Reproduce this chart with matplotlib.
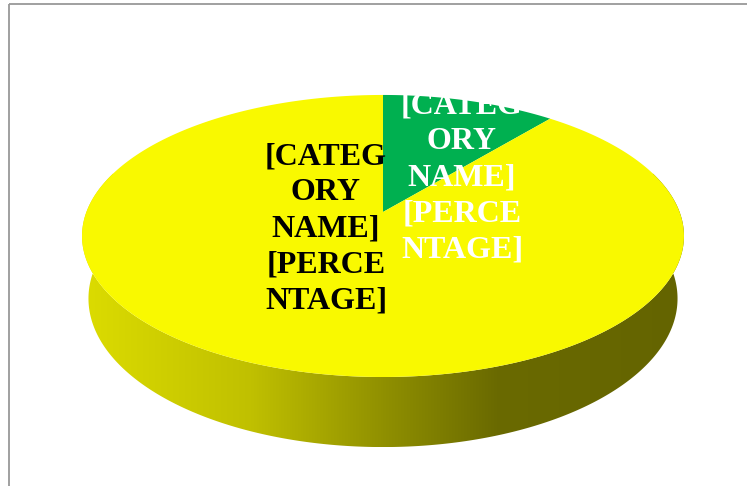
import matplotlib
matplotlib.use("Agg")
import matplotlib.pyplot as plt
import numpy as np
from matplotlib.patches import Polygon, Rectangle
from matplotlib.colors import LinearSegmentedColormap

# pie data (first slice starts at 12 o'clock, clockwise)
shares = [11, 89]
slice_colors = ["#00B050", "#F9F900"]
slice_labels = ["[CATEG\nORY\nNAME]\n[PERCE\nNTAGE]", "[CATEG\nORY\nNAME]\n[PERCE\nNTAGE]"]
label_colors = ["white", "black"]
label_pos = [(462, 178), (326, 229)]

# simple perspective camera looking down on the pie
phi = np.radians(27.5)
D = 5.216
f = 1547.0
thick = 0.24
cx, cy = 383, 212


def project(X, Y, Z=0.0):
    c, s = np.cos(phi), np.sin(phi)
    dep = D + Y * c - Z * s
    return cx + f * X / dep, cy - f * (Y * s + Z * c) / dep


fig = plt.figure(figsize=(7.47, 4.86), dpi=100)
ax = fig.add_axes([0, 0, 1, 1])
ax.axis("off")

# chart frame
ax.add_patch(Rectangle((8.5, 4.5), 760, 500, fill=False, edgecolor="#999999", lw=1.3))

# side wall with horizontal shading
t = np.linspace(np.pi - 0.3, 2 * np.pi + 0.3, 400)
tx, ty = project(np.cos(t), np.sin(t))
bx, by = project(np.cos(t[::-1]), np.sin(t[::-1]), -thick)
wall = Polygon(np.column_stack([np.r_[tx, bx], np.r_[ty, by]]), closed=True,
               facecolor="none", edgecolor="none")
ax.add_patch(wall)
shade = LinearSegmentedColormap.from_list(
    "wall", [(0, "#DCDC00"), (0.28, "#C0C000"), (0.51, "#8E8E00"),
             (0.69, "#6A6A00"), (1, "#646400")])
grad = np.linspace(0, 1, 256).reshape(1, -1)
im = ax.imshow(grad, cmap=shade, extent=(tx.min(), tx.max(), by.max(), ty.min()),
               aspect="auto", interpolation="bilinear")
im.set_clip_path(wall)

# top face slices
total = sum(shares)
angle = 90.0
for share, col in zip(shares, slice_colors):
    sweep = 360.0 * share / total
    th = np.radians(np.linspace(angle, angle - sweep, 300))
    px, py = project(np.cos(th), np.sin(th))
    pts = np.column_stack([np.r_[cx, px], np.r_[cy, py]])
    ax.add_patch(Polygon(pts, closed=True, facecolor=col, edgecolor="none"))
    angle -= sweep

for txt, col, (x, y) in zip(slice_labels, label_colors, label_pos):
    ax.text(x, y, txt, color=col, ha="center", va="center", multialignment="center",
            fontsize=23, fontweight="bold", family="Liberation Serif", linespacing=1.32)

ax.set_xlim(0, 747)
ax.set_ylim(486, 0)
fig.savefig("out.png", dpi=100)
